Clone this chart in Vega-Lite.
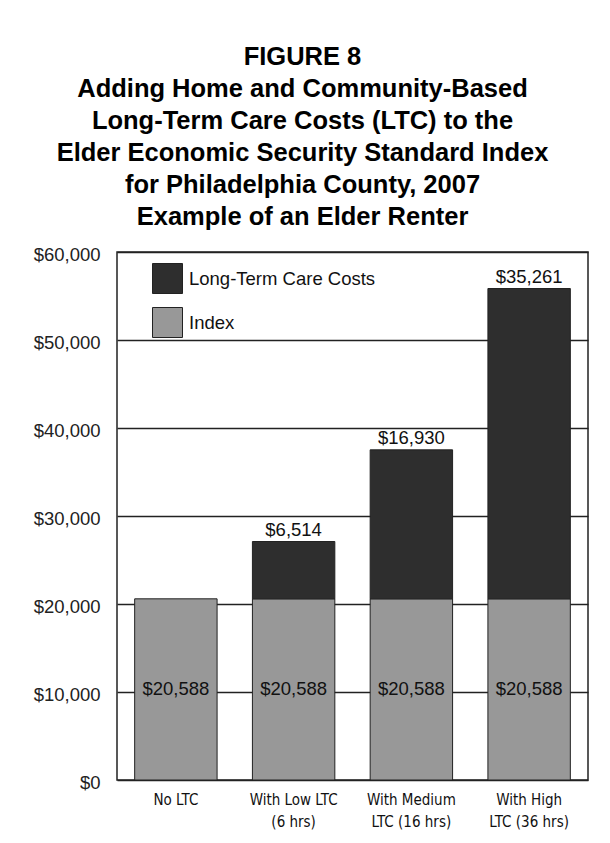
{
  "$schema": "https://vega.github.io/schema/vega-lite/v6.json",
  "width": 471,
  "height": 528,
  "autosize": {"type": "none"},
  "padding": {"left": 117, "top": 252, "right": 22, "bottom": 63},
  "background": "white",
  "config": {
    "view": {"stroke": "#222", "strokeWidth": 1.5},
    "font": "Liberation Sans"
  },
  "title": {
    "text": ["FIGURE 8", "Adding Home and Community-Based", "Long-Term Care Costs (LTC) to the", "Elder Economic Security Standard Index", "for Philadelphia County, 2007", "Example of an Elder Renter"],
    "font": "Liberation Sans",
    "fontWeight": "bold",
    "fontSize": 25.5,
    "lineHeight": 32,
    "color": "#000",
    "anchor": "middle",
    "frame": "group",
    "dx": -50,
    "offset": 15
  },
  "data": {
    "values": [
      {"category": "No LTC", "component": "Index", "value": 20588},
      {"category": "With Low LTC\n(6 hrs)", "component": "Index", "value": 20588},
      {"category": "With Low LTC\n(6 hrs)", "component": "Long-Term Care Costs", "value": 6514},
      {"category": "With Medium\nLTC (16 hrs)", "component": "Index", "value": 20588},
      {"category": "With Medium\nLTC (16 hrs)", "component": "Long-Term Care Costs", "value": 16930},
      {"category": "With High\nLTC (36 hrs)", "component": "Index", "value": 20588},
      {"category": "With High\nLTC (36 hrs)", "component": "Long-Term Care Costs", "value": 35261}
    ]
  },
  "encoding": {
    "x": {
      "field": "category",
      "type": "nominal",
      "sort": null,
      "scale": {"paddingInner": 0.3, "paddingOuter": 0.15},
      "axis": {
        "title": null,
        "labelAngle": 0,
        "labelExpr": "split(datum.label, '\\n')",
        "labelFont": "DejaVu Sans Condensed, Roboto",
        "labelFontSize": 15,
        "labelLineHeight": 22,
        "labelColor": "#111",
        "labelBaseline": "top",
        "ticks": false,
        "domain": false,
        "labelPadding": 12
      }
    }
  },
  "layer": [
    {
      "mark": {"type": "bar", "stroke": "#222", "strokeWidth": 1},
      "encoding": {
        "y": {
          "field": "value",
          "type": "quantitative",
          "stack": "zero",
          "scale": {"domain": [0, 60000]},
          "axis": {
            "title": null,
            "values": [0, 10000, 20000, 30000, 40000, 50000, 60000],
            "format": "$,.0f",
            "labelFont": "Liberation Sans",
            "labelFontSize": 18.5,
            "labelColor": "#222",
            "labelBaseline": "middle",
            "labelOffset": 2,
            "ticks": false,
            "domain": false,
            "gridColor": "#222",
            "gridWidth": 1.3,
            "labelPadding": 17
          }
        },
        "color": {
          "field": "component",
          "type": "nominal",
          "scale": {"domain": ["Long-Term Care Costs", "Index"], "range": ["#2e2e2e", "#989898"]},
          "legend": {
            "title": null,
            "orient": "none",
            "legendX": 35,
            "legendY": 11,
            "symbolType": "square",
            "symbolSize": 900,
            "symbolStrokeColor": "#222",
            "symbolStrokeWidth": 1,
            "symbolOpacity": 1,
            "labelFont": "Liberation Sans",
            "labelFontSize": 18.5,
            "labelColor": "#111",
            "labelOffset": 6,
            "labelLimit": 400,
            "rowPadding": 9,
            "padding": 0
          }
        },
        "order": {"field": "component", "sort": "ascending"}
      }
    },
    {
      "transform": [{"filter": "datum.component === 'Index'"}],
      "mark": {"type": "text", "fontSize": 18.5, "color": "#111", "baseline": "middle"},
      "encoding": {
        "y": {"field": "value", "type": "quantitative", "stack": "zero", "bandPosition": 0.5},
        "text": {"field": "value", "type": "quantitative", "format": "$,.0f"}
      }
    },
    {
      "mark": {"type": "text", "fontSize": 18.5, "color": "#111", "baseline": "alphabetic", "dy": -6},
      "encoding": {
        "y": {"field": "value", "type": "quantitative", "stack": "zero"},
        "order": {"field": "component", "sort": "ascending"},
        "text": {
          "condition": {"test": "datum.component === 'Long-Term Care Costs'", "field": "value", "type": "quantitative", "format": "$,.0f"},
          "value": ""
        }
      }
    }
  ]
}
